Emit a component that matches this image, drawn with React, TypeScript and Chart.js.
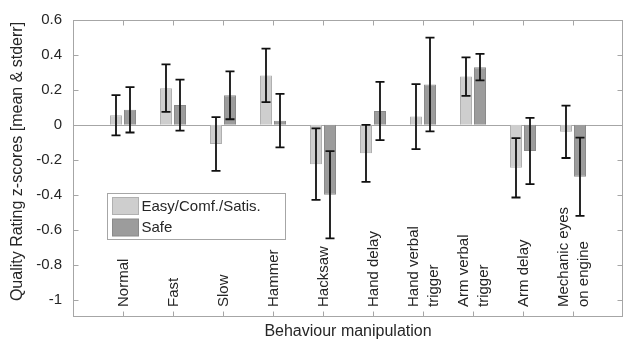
import React, { useEffect, useRef } from 'react';
import { Chart, registerables } from 'chart.js';

Chart.register(...registerables);

// ---- data ----
const categories: string[][] = [
  ['Normal'],
  ['Fast'],
  ['Slow'],
  ['Hammer'],
  ['Hacksaw'],
  ['Hand delay'],
  ['Hand verbal', 'trigger'],
  ['Arm verbal', 'trigger'],
  ['Arm delay'],
  ['Mechanic eyes', 'on engine'],
];
const seriesNames = ['Easy/Comf./Satis.', 'Safe'];
const easyMeans = [0.055, 0.21, -0.11, 0.283, -0.225, -0.163, 0.047, 0.276, -0.246, -0.04];
const easyErr = [0.115, 0.136, 0.154, 0.153, 0.205, 0.163, 0.186, 0.11, 0.17, 0.15];
const safeMeans = [0.086, 0.113, 0.169, 0.024, -0.4, 0.079, 0.231, 0.33, -0.15, -0.297];
const safeErr = [0.13, 0.146, 0.137, 0.153, 0.25, 0.167, 0.268, 0.076, 0.19, 0.224];
const yTickValues = [-1, -0.8, -0.6, -0.4, -0.2, 0, 0.2, 0.4, 0.6];
const yTickLabels = ['-1', '-0.8', '-0.6', '-0.4', '-0.2', '0', '0.2', '0.4', '0.6'];
const xTitle = 'Behaviour manipulation';
const yTitle = 'Quality Rating z-scores [mean & stderr]';

const FONT = "'Liberation Sans', Arial, Helvetica, sans-serif";
const TEXT = '#262626';
const AXIS = '#a6a6a6';
const fills = ['#cecece', '#9c9c9c'];
const borders = ['#b0b0b0', '#8a8a8a'];
const errs = [easyErr, safeErr];

const overlay = {
  id: 'overlay',
  beforeDatasetsDraw(chart: any) {
    const { ctx, chartArea, scales } = chart;
    const y0 = Math.round(scales.y.getPixelForValue(0)) + 0.5;
    ctx.save();
    ctx.strokeStyle = AXIS;
    ctx.lineWidth = 1;
    ctx.beginPath();
    ctx.moveTo(chartArea.left, y0);
    ctx.lineTo(chartArea.right, y0);
    ctx.stroke();
    ctx.restore();
  },
  afterDatasetsDraw(chart: any) {
    const { ctx, chartArea, scales } = chart;
    const xs = scales.x;
    const ys = scales.y;
    const L = Math.round(chartArea.left) + 0.5;
    const R = Math.round(chartArea.right) - 0.5;
    const T = Math.round(chartArea.top) + 0.5;
    const B = Math.round(chartArea.bottom) - 0.5;
    ctx.save();
    // error bars
    ctx.strokeStyle = '#111';
    ctx.lineWidth = 1.8;
    chart.data.datasets.forEach((ds: any, di: number) => {
      const meta = chart.getDatasetMeta(di);
      meta.data.forEach((bar: any, i: number) => {
        const v = ds.data[i].y;
        const e = errs[di][i];
        const x = bar.x;
        const yt = ys.getPixelForValue(v + e);
        const yb = ys.getPixelForValue(v - e);
        ctx.beginPath();
        ctx.moveTo(x, yt);
        ctx.lineTo(x, yb);
        ctx.moveTo(x - 4.5, yt);
        ctx.lineTo(x + 4.5, yt);
        ctx.moveTo(x - 4.5, yb);
        ctx.lineTo(x + 4.5, yb);
        ctx.stroke();
      });
    });
    // frame
    ctx.strokeStyle = AXIS;
    ctx.lineWidth = 1;
    ctx.strokeRect(L, T, R - L, B - T);
    // ticks
    ctx.beginPath();
    categories.forEach((_, i) => {
      const x = Math.round(xs.getPixelForValue(i + 1)) + 0.5;
      ctx.moveTo(x, T);
      ctx.lineTo(x, T + 5);
      ctx.moveTo(x, B);
      ctx.lineTo(x, B - 5);
    });
    yTickValues.forEach((v) => {
      const y = Math.round(ys.getPixelForValue(v)) + 0.5;
      ctx.moveTo(L, y);
      ctx.lineTo(L + 5, y);
      ctx.moveTo(R, y);
      ctx.lineTo(R - 5, y);
    });
    ctx.stroke();
    // category labels (rotated, inside plot)
    ctx.fillStyle = TEXT;
    ctx.font = `15px ${FONT}`;
    ctx.textAlign = 'left';
    ctx.textBaseline = 'middle';
    categories.forEach((lines, i) => {
      const x = xs.getPixelForValue(i + 1);
      const n = lines.length;
      lines.forEach((line, li) => {
        const off = (li - (n - 1) / 2) * 20;
        ctx.save();
        ctx.translate(x + off + 1, chartArea.bottom - 10);
        ctx.rotate(-Math.PI / 2);
        ctx.fillText(line, 0, 0);
        ctx.restore();
      });
    });
    // y axis title
    ctx.font = `16px ${FONT}`;
    ctx.textAlign = 'center';
    ctx.textBaseline = 'middle';
    ctx.save();
    ctx.translate(18, (chartArea.top + chartArea.bottom) / 2 - 7);
    ctx.rotate(-Math.PI / 2);
    ctx.fillText(yTitle, 0, 0);
    ctx.restore();
    // legend
    ctx.font = `15px ${FONT}`;
    const lx = chartArea.left + 34.5;
    const ly = chartArea.top + 173.5;
    ctx.fillStyle = '#fff';
    ctx.fillRect(lx, ly, 178, 46);
    ctx.strokeStyle = AXIS;
    ctx.strokeRect(lx, ly, 178, 46);
    seriesNames.forEach((name, k) => {
      const sy = ly + 4 + k * 21.5;
      ctx.fillStyle = fills[k];
      ctx.fillRect(lx + 5, sy, 26, 17);
      ctx.strokeStyle = borders[k];
      ctx.strokeRect(lx + 5, sy, 26, 17);
      ctx.fillStyle = TEXT;
      ctx.textAlign = 'left';
      ctx.textBaseline = 'middle';
      ctx.fillText(name, lx + 34, sy + 9);
    });
    ctx.restore();
  },
};

export default function App() {
  const ref = useRef<HTMLCanvasElement | null>(null);
  useEffect(() => {
    if (!ref.current) return;
    const chart = new Chart(ref.current, {
      type: 'bar',
      data: {
        datasets: [
          {
            label: seriesNames[0],
            data: easyMeans.map((v, i) => ({ x: i + 1, y: v })),
            backgroundColor: fills[0],
            borderColor: borders[0],
            borderWidth: 1,
            categoryPercentage: 0.56,
            barPercentage: 0.857,
          },
          {
            label: seriesNames[1],
            data: safeMeans.map((v, i) => ({ x: i + 1, y: v })),
            backgroundColor: fills[1],
            borderColor: borders[1],
            borderWidth: 1,
            categoryPercentage: 0.56,
            barPercentage: 0.857,
          },
        ] as any,
      },
      options: {
        animation: false,
        responsive: false,
        layout: { padding: { top: 13, right: 6, left: 0, bottom: 0 } },
        plugins: { legend: { display: false }, tooltip: { enabled: false } },
        scales: {
          x: {
            type: 'linear',
            min: 0,
            max: 11,
            offset: false,
            grid: { display: false },
            border: { display: false },
            ticks: { display: false },
            afterBuildTicks: (s: any) => {
              s.ticks = categories.map((_, i) => ({ value: i + 1 }));
            },
            afterFit: (s: any) => {
              s.height = 24;
            },
            title: {
              display: true,
              text: xTitle,
              color: TEXT,
              font: { family: FONT, size: 16 },
              padding: { top: 0, bottom: 0 },
            },
          },
          y: {
            type: 'linear',
            min: -1.1,
            max: 0.6,
            grid: { display: false, drawTicks: false },
            border: { display: false },
            afterBuildTicks: (s: any) => {
              s.ticks = yTickValues.map((v) => ({ value: v }));
            },
            ticks: {
              color: TEXT,
              font: { family: FONT, size: 15 },
              padding: 11,
              callback: (_v: any, i: number) => yTickLabels[i],
            },
            afterFit: (s: any) => {
              s.width = 73;
            },
          },
        },
      } as any,
      plugins: [overlay],
    });
    return () => chart.destroy();
  }, []);
  return (
    <div style={{ position: 'absolute', left: 0, top: 0, width: 629, height: 341, background: '#fff' }}>
      <canvas ref={ref} width={629} height={341} style={{ display: 'block' }} />
    </div>
  );
}
